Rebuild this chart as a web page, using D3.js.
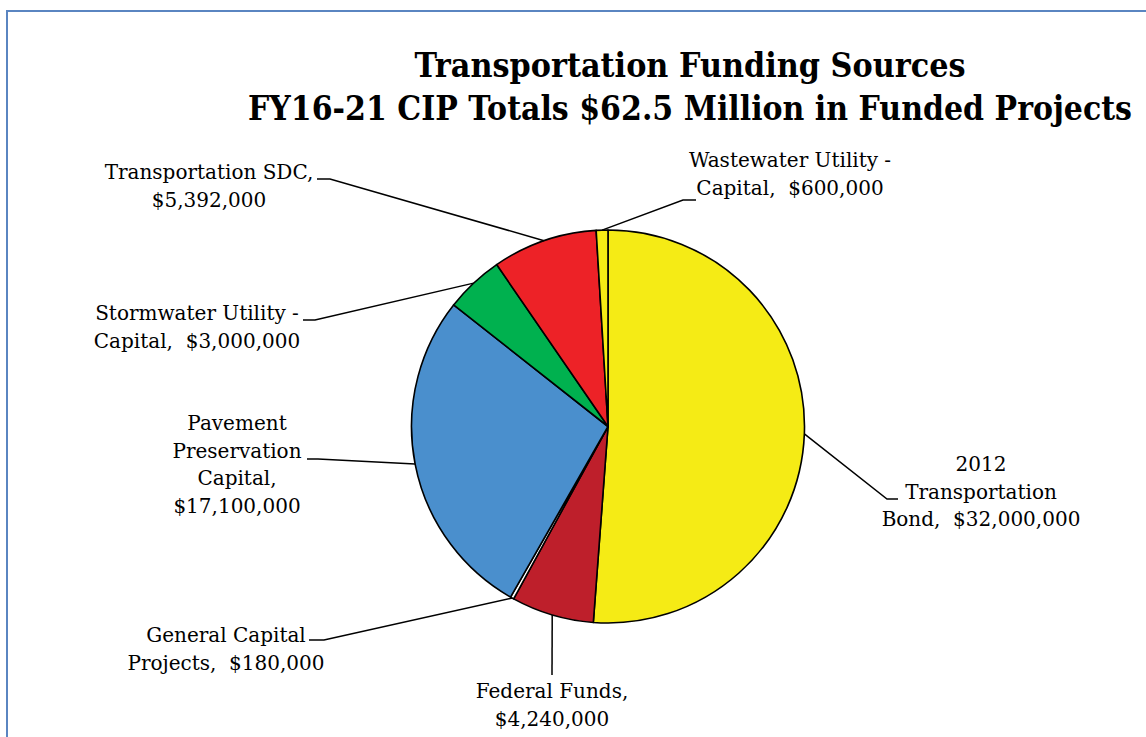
<!DOCTYPE html>
<html>
<head>
<meta charset="utf-8">
<script src="https://cdn.jsdelivr.net/npm/d3@7"></script>
<style>
  html, body { margin: 0; padding: 0; background: #fff; }
  svg text { font-family: "DejaVu Serif", "Liberation Serif", serif; white-space: pre; }
</style>
</head>
<body>
<div id="chart"></div>
<script>
// data
var sources = ["2012 Transportation Bond", "Federal Funds", "General Capital Projects",
  "Pavement Preservation Capital", "Stormwater Utility - Capital", "Transportation SDC",
  "Wastewater Utility - Capital"];
var amounts = [32000000, 4240000, 180000, 17100000, 3000000, 5392000, 600000];
var labelLines = [
  ["2012", "Transportation", "Bond,  $32,000,000"],
  ["Federal Funds,", "$4,240,000"],
  ["General Capital", "Projects,  $180,000"],
  ["Pavement", "Preservation", "Capital,", "$17,100,000"],
  ["Stormwater Utility -", "Capital,  $3,000,000"],
  ["Transportation SDC,", "$5,392,000"],
  ["Wastewater Utility -", "Capital,  $600,000"]
];
var titleLines = ["Transportation Funding Sources", "FY16-21 CIP Totals $62.5 Million in Funded Projects"];
var sliceColors = ["#f5eb15", "#be1f2b", "#ffffff", "#4a8fcd", "#00b14f", "#ed2227", "#f5eb15"];

// label layout: text centre, first baseline, knee of the leader, end of the short tick
var labelPos = [
  {tx: 981, ty: 471, kx: 887, ky: 499, ex: 898},
  {tx: 552, ty: 698, kx: 552, ky: 675, ex: 552},
  {tx: 226, ty: 642, kx: 324, ky: 640, ex: 309},
  {tx: 237, ty: 430, kx: 318, ky: 459, ex: 307},
  {tx: 197, ty: 320, kx: 315, ky: 320, ex: 303},
  {tx: 209, ty: 179, kx: 330, ky: 179, ex: 317},
  {tx: 790, ty: 167, kx: 683, ky: 200, ex: 696}
];

var width = 1146, height = 737;
var cx = 608, cy = 426.5, radius = 196.5;
var lineGap = 27.5;

var svg = d3.select("#chart").append("svg")
  .attr("width", width)
  .attr("height", height);

// frame
svg.append("rect")
  .attr("x", 7).attr("y", 11)
  .attr("width", width + 20).attr("height", height + 20)
  .attr("fill", "none")
  .attr("stroke", "#5a85c1")
  .attr("stroke-width", 2);

// title
svg.append("g").selectAll("text")
  .data(titleLines)
  .enter().append("text")
  .attr("x", 690)
  .attr("y", function(d, i) { return 77 + i * 43; })
  .attr("text-anchor", "middle")
  .attr("font-weight", "bold")
  .attr("font-size", 34)
  .attr("textLength", function(d, i) { return [551, 884][i]; })
  .attr("lengthAdjust", "spacingAndGlyphs")
  .attr("fill", "#000")
  .text(function(d) { return d; });

var rows = sources.map(function(s, i) {
  return {name: s, value: amounts[i], color: sliceColors[i], lines: labelLines[i], pos: labelPos[i]};
});

var pie = d3.pie()
  .sort(null)
  .value(function(d) { return d.value; })
  .startAngle(0)
  .endAngle(2 * Math.PI);

var arc = d3.arc().innerRadius(0).outerRadius(radius);

var arcs = pie(rows);

var g = svg.append("g").attr("transform", "translate(" + cx + "," + cy + ")");

g.selectAll("path.slice")
  .data(arcs)
  .enter().append("path")
  .attr("class", "slice")
  .attr("d", arc)
  .attr("fill", function(d) { return d.data.color; })
  .attr("stroke", "#000")
  .attr("stroke-width", 1.6)
  .attr("stroke-linejoin", "round");

// leader lines
svg.append("g").selectAll("path")
  .data(arcs)
  .enter().append("path")
  .attr("fill", "none")
  .attr("stroke", "#000")
  .attr("stroke-width", 1.5)
  .attr("d", function(d) {
    var a = (d.startAngle + d.endAngle) / 2;
    var px = cx + radius * Math.sin(a);
    var py = cy - radius * Math.cos(a);
    var p = d.data.pos;
    return "M" + px + "," + py + "L" + p.kx + "," + p.ky + "L" + p.ex + "," + p.ky;
  });

// labels
var lab = svg.append("g").selectAll("text")
  .data(arcs)
  .enter().append("text")
  .attr("text-anchor", "middle")
  .attr("font-size", 20)
  .attr("fill", "#000");

lab.selectAll("tspan")
  .data(function(d) {
    return d.data.lines.map(function(l, i) { return {t: l, i: i, pos: d.data.pos}; });
  })
  .enter().append("tspan")
  .attr("x", function(d) { return d.pos.tx; })
  .attr("y", function(d) { return d.pos.ty + d.i * lineGap; })
  .text(function(d) { return d.t; });
</script>
</body>
</html>
